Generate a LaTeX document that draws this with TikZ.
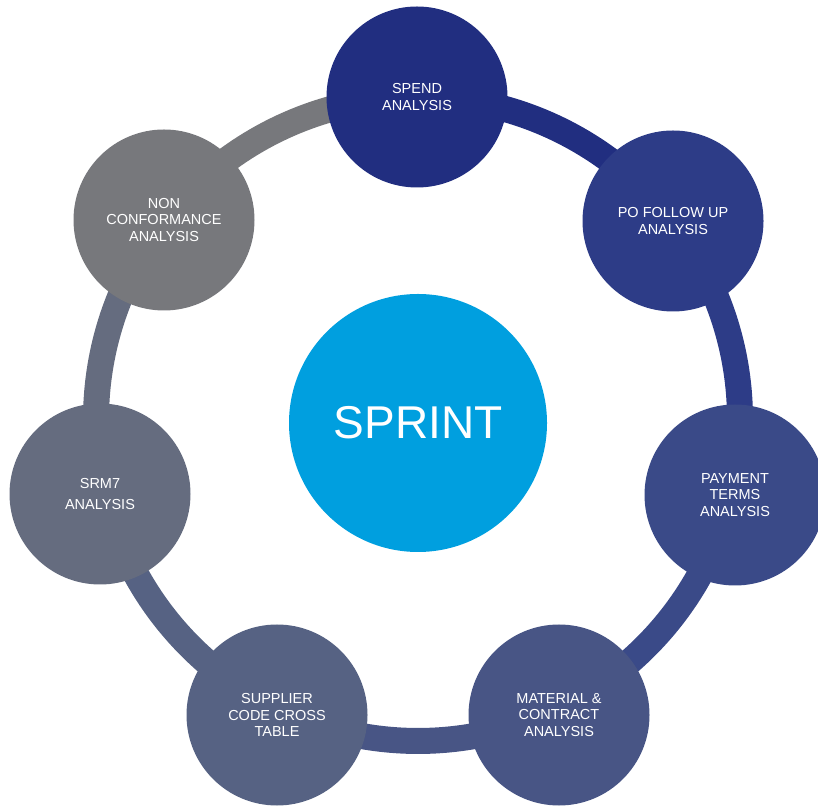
\documentclass[tikz,border=0pt]{standalone}
\usepackage{fontspec}
\setmainfont{Liberation Sans}
\usetikzlibrary{calc}
\definecolor{cSpend}{HTML}{212E80}
\definecolor{cPo}{HTML}{2D3C87}
\definecolor{cPay}{HTML}{3A4A88}
\definecolor{cMat}{HTML}{485585}
\definecolor{cSup}{HTML}{566283}
\definecolor{cSrm}{HTML}{656C7F}
\definecolor{cNon}{HTML}{77787C}
\definecolor{cSprint}{HTML}{009FDF}
\tikzset{
  bubble/.style={circle, minimum size=181pt, inner sep=0pt, text=white, align=center,
    font=\fontsize{14.5}{16.3}\selectfont},
  ringarc/.style={line width=26pt},
}
\begin{document}
\begin{tikzpicture}[x=1pt,y=1pt]
\useasboundingbox (0,0) rectangle (818,808);
\coordinate (ctr) at (418,389);
\def\R{322}
\foreach \i in {0,...,6} {
  \coordinate (q\i) at ($(ctr)+({90-\i*360/7}:\R)$);
}
% ring arcs
\foreach \i/\c in {0/cSpend,1/cPo,2/cPay,3/cMat,4/cSup,5/cSrm,6/cNon} {
  \draw[ringarc, draw=\c] (q\i) arc[start angle={90-\i*360/7}, end angle={90-(\i+1)*360/7}, radius=\R];
}
% circles
\node[bubble, fill=cSpend] (spend) at (417,711) {SPEND\\ANALYSIS};
\node[bubble, fill=cPo] (po) at (673,587) {PO FOLLOW UP\\ANALYSIS};
\node[bubble, fill=cPay] (pay) at (735,313) {PAYMENT\\TERMS\\ANALYSIS};
\node[bubble, fill=cMat] (mat) at (559,93) {MATERIAL \&\\CONTRACT\\ANALYSIS};
\node[bubble, fill=cSup] (sup) at (277,93) {SUPPLIER\\CODE CROSS\\TABLE};
\node[bubble, fill=cSrm] (srm) at (100,314) {SRM7\\[4pt]ANALYSIS};
\node[bubble, fill=cNon] (non) at (164,588) {NON\\CONFORMANCE\\ANALYSIS};
\node[circle, minimum size=258pt, inner sep=0pt, fill=cSprint, text=white,
  font=\fontsize{46}{50}\selectfont] (sprint) at (418,385) {SPRINT};
\end{tikzpicture}
\end{document}
